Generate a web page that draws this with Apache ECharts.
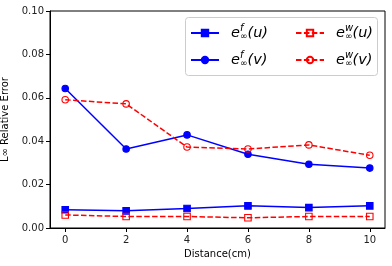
<!DOCTYPE html>
<html><head><meta charset="utf-8">
<script src="https://cdn.jsdelivr.net/npm/echarts@6/dist/echarts.min.js"></script>
<style>html,body{margin:0;padding:0;background:#fff}#c{width:392px;height:266px}</style>
</head><body><div id="c"></div>
<script>
const distance = [0, 2, 4, 6, 8, 10];
const efU = [0.0084, 0.0079, 0.0090, 0.0102, 0.0094, 0.0102];
const efV = [0.0643, 0.0364, 0.0429, 0.0340, 0.0294, 0.0276];
const ewU = [0.0060, 0.0053, 0.0053, 0.0047, 0.0053, 0.0053];
const ewV = [0.0591, 0.0572, 0.0373, 0.0364, 0.0383, 0.0335];
const xTicks = [0, 2, 4, 6, 8, 10];
const legendSup = {efU: 'f', efV: 'f', ewU: 'w', ewV: 'w'};
const legendArg = {efU: '(u)', efV: '(v)', ewU: '(u)', ewV: '(v)'};

const pairs = a => distance.map((d, i) => [d, a[i]]);
const FONT = 'DejaVu Sans';
const BLUE = '#0000ff', RED = '#ff0000';
const dash = [5.5, 2.4];

function mk(name, data, color, symbol, filled, dashed) {
  return {
    name, type: 'line', data: pairs(data), symbol, symbolSize: 6.5,
    lineStyle: {color, width: 1.5, type: dashed ? dash : 'solid'},
    itemStyle: {color: filled ? color : 'rgba(255,255,255,0)', borderColor: color, borderWidth: 1.1},
    emphasis: {disabled: true}, animation: false
  };
}

const rich = {
  e: {fontFamily: FONT, fontStyle: 'italic', fontSize: 14.5, lineHeight: 22, color: '#000', padding: [0, 0, 0, 7]},
  sup: {fontFamily: FONT, fontStyle: 'italic', fontSize: 10, lineHeight: 22, color: '#000', verticalAlign: 'top', width: 0.1, padding: [1, 0, 0, 0]},
  sub: {fontFamily: FONT, fontSize: 9, lineHeight: 22, color: '#000', verticalAlign: 'bottom', padding: [0, 0, 3, 0]},
  p: {fontFamily: FONT, fontStyle: 'italic', fontSize: 14.5, lineHeight: 22, color: '#000'}
};
const fmt = n => '{e|e}{sup|' + legendSup[n] + '}{sub|∞}{p|' + legendArg[n] + '}';

function leg(left, names) {
  return {
    left, top: 22, orient: 'vertical', padding: 0, itemGap: 5,
    itemWidth: 28, itemHeight: 8, data: names, formatter: fmt,
    textStyle: {rich}, selectedMode: false, z: 5
  };
}

const chart = echarts.init(document.getElementById('c'), null, {renderer: 'canvas'});
chart.setOption({
  animation: false,
  backgroundColor: '#fff',
  grid: {left: 50, right: 7, top: 11, bottom: 38, show: true, borderColor: '#000', borderWidth: 1,
         backgroundColor: 'transparent', containLabel: false, outerBoundsMode: 'none'},
  xAxis: {
    type: 'value', min: -0.5, max: 10.5,
    name: 'Distance(cm)', nameLocation: 'middle', nameGap: 20,
    nameTextStyle: {fontFamily: FONT, fontSize: 10, color: '#000'},
    axisLine: {show: true, onZero: false, lineStyle: {color: '#000', width: 1}},
    axisTick: {show: true, length: 4, lineStyle: {color: '#000'}, customValues: xTicks},
    axisLabel: {fontFamily: FONT, fontSize: 10, color: '#222', margin: 7, customValues: xTicks},
    splitLine: {show: false}
  },
  yAxis: {
    type: 'value', min: 0, max: 0.1, interval: 0.02,
    name: 'L∞ Relative Error', nameLocation: 'middle', nameGap: 38,
    nameTextStyle: {fontFamily: FONT, fontSize: 10, color: '#000'},
    axisLine: {show: true, onZero: false, lineStyle: {color: '#000', width: 1}},
    axisTick: {show: true, length: 4, lineStyle: {color: '#000'}},
    axisLabel: {fontFamily: FONT, fontSize: 10, color: '#222', margin: 6, formatter: v => v.toFixed(2)},
    splitLine: {show: false}
  },
  legend: [leg(190, ['efU', 'efV']), leg(295, ['ewU', 'ewV'])],
  graphic: [{
    type: 'rect', z: 4, shape: {x: 185.5, y: 17.5, width: 192, height: 58, r: 3},
    style: {fill: 'rgba(255,255,255,0.8)', stroke: '#cccccc', lineWidth: 1}
  }],
  series: [
    mk('efU', efU, BLUE, 'rect', true, false),
    mk('efV', efV, BLUE, 'circle', true, false),
    mk('ewU', ewU, RED, 'rect', false, true),
    mk('ewV', ewV, RED, 'circle', false, true)
  ]
});
</script></body></html>
